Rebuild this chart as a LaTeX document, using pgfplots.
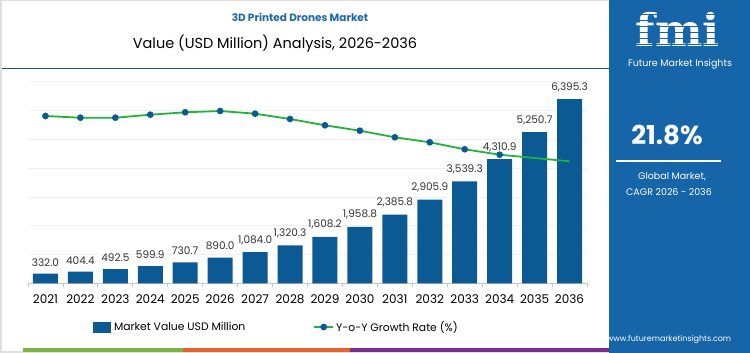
\documentclass[border=0pt]{standalone}
\usepackage{pgfplots}
\pgfplotsset{compat=1.18}
\usepackage{fontspec}
\setmainfont{Poppins}
\newfontfamily\logofont{DejaVu Serif}
\definecolor{barblue}{HTML}{0B5A94}
\definecolor{panelblue}{HTML}{1565A8}
\definecolor{linegreen}{HTML}{22B33A}
\definecolor{dotblue}{HTML}{0B5A94}
\definecolor{titleblue}{HTML}{1F6AA5}
\definecolor{labelgray}{HTML}{333333}
\definecolor{stripegreen}{HTML}{7CB342}
\definecolor{stripeorange}{HTML}{E4622D}
\definecolor{stripepurple}{HTML}{7B2D8B}
\begin{document}
\begin{tikzpicture}[x=1pt,y=1pt]
\path[use as bounding box] (0,0) rectangle (750,353);
\fill[white] (0,0) rectangle (750,353);
\draw[gray!25, line width=1.5pt] (0.75,0.75) rectangle (612,352.25);
% title
\node[font=\bfseries\fontsize{10.5}{12}\selectfont, text=titleblue] at (300,336) {3D Printed Drones Market};
\node[font=\fontsize{14.5}{17}\selectfont, text=black] at (275,309) {Value (USD Million) Analysis, 2026-2036};
\draw[color=titleblue!80!black, line width=1.1pt] (2,284.5) -- (615,284.5);
% bottom stripe
\fill[stripegreen] (23,1.3) rectangle (183,4.7);
\fill[stripeorange] (183,1.3) rectangle (350,4.7);
\fill[stripepurple] (350,1.3) rectangle (609,4.7);
% right panel
\fill[panelblue] (609,0) rectangle (750,353);
\node[font=\logofont\bfseries\fontsize{45}{45}\selectfont, text=white, inner sep=0pt, anchor=base] at (678,306) {fmi};
\foreach \yy in {309,315,321,327,333,339} {\draw[panelblue, line width=0.8pt] (625,\yy) -- (740,\yy);}
\node[font=\fontsize{9.5}{11}\selectfont, text=white, inner sep=0.5pt] at (680,288.5) {Future Market Insights};
\node[font=\bfseries\fontsize{26}{30}\selectfont, text=white] at (667,218) {21.8\%};
\draw[white, line width=1.3pt] (616,192) -- (721,192);
\node[font=\fontsize{9.5}{11}\selectfont, text=white] at (672,176) {Global Market,};
\node[font=\fontsize{9.5}{11}\selectfont, text=white] at (669,161) {CAGR 2026 - 2036};
\node[font=\fontsize{8}{10}\selectfont, text=white] at (669,13) {www.futuremarketinsights.com};

\begin{axis}[
  at={(28pt,69.7pt)}, anchor=south west, scale only axis,
  width=559pt, height=201.6pt,
  xmin=-0.5, xmax=15.5, ymin=0, ymax=7000,
  axis line style={draw=none},
  ytick={1000,2000,...,7000}, yticklabels={}, ymajorgrids,
  grid style={color=gray!12, line width=0.7pt},
  extra y ticks={0}, extra y tick labels={},
  extra y tick style={grid style={color=gray!45, line width=0.9pt}},
  xtick={0,...,15},
  xticklabels={2021,2022,2023,2024,2025,2026,2027,2028,2029,2030,2031,2032,2033,2034,2035,2036},
  minor xtick={-0.5,0.5,...,15.5},
  major tick length=0pt, minor tick length=4pt, tick align=outside,
  xtick pos=bottom, ytick pos=left,
  minor x tick style={color=gray!45, line width=0.8pt},
  xticklabel style={font=\fontsize{12}{14}\selectfont, text=black, yshift=-8pt},
  /pgf/number format/assume math mode=true,
  clip=false,
]
\addplot[ybar, bar width=25pt, fill=barblue, draw=none,
  nodes near coords,
  nodes near coords style={font=\fontsize{10.5}{12}\selectfont, text=labelgray, yshift=4pt,
    /pgf/number format/.cd, fixed, fixed zerofill, precision=1, 1000 sep={,}, assume math mode=true}]
coordinates {
(0,332.0) (1,404.4) (2,492.5) (3,599.9) (4,730.7) (5,890.0) (6,1084.0) (7,1320.3)
(8,1608.2) (9,1958.8) (10,2385.8) (11,2905.9) (12,3539.3) (13,4310.9) (14,5250.7) (15,6395.3)
};
\end{axis}

\begin{axis}[
  at={(28pt,69.7pt)}, anchor=south west, scale only axis,
  width=559pt, height=201.6pt,
  xmin=-0.5, xmax=15.5, ymin=0, ymax=20.16,
  hide axis, clip=false,
  legend columns=2,
  legend style={draw=none, fill=none, at={(0.444,-0.217)}, anchor=center,
    font=\fontsize{10.8}{13}\selectfont, text=black,
    /tikz/every even column/.append style={column sep=66pt}},
  legend cell align=left,
]
\addlegendimage{legend image code/.code={\fill[barblue] (0pt,-5pt) rectangle (17pt,5pt); \path (19pt,0pt);}}
\addlegendentry{Market Value USD Million}
\addplot[linegreen, line width=1.8pt, mark=*, mark size=2.4pt,
  mark options={fill=dotblue, draw=dotblue},
  mark indices={1,2,3,4,5,6,7,8,9,10,11,12,13,14},
  legend image code/.code={\draw[linegreen, line width=1.8pt] (0pt,0pt) -- (19pt,0pt); \fill[dotblue] (9.5pt,0pt) circle (2.4pt);}]
coordinates {
(0,16.73) (1,16.56) (2,16.56) (3,16.86) (4,17.10) (5,17.23) (6,16.96) (7,16.43)
(8,15.80) (9,15.26) (10,14.60) (11,14.10) (12,13.40) (13,12.86) (14,12.53) (15,12.20)
};
\addlegendentry{Y-o-Y Growth Rate (\%)}
\end{axis}
\end{tikzpicture}
\end{document}
